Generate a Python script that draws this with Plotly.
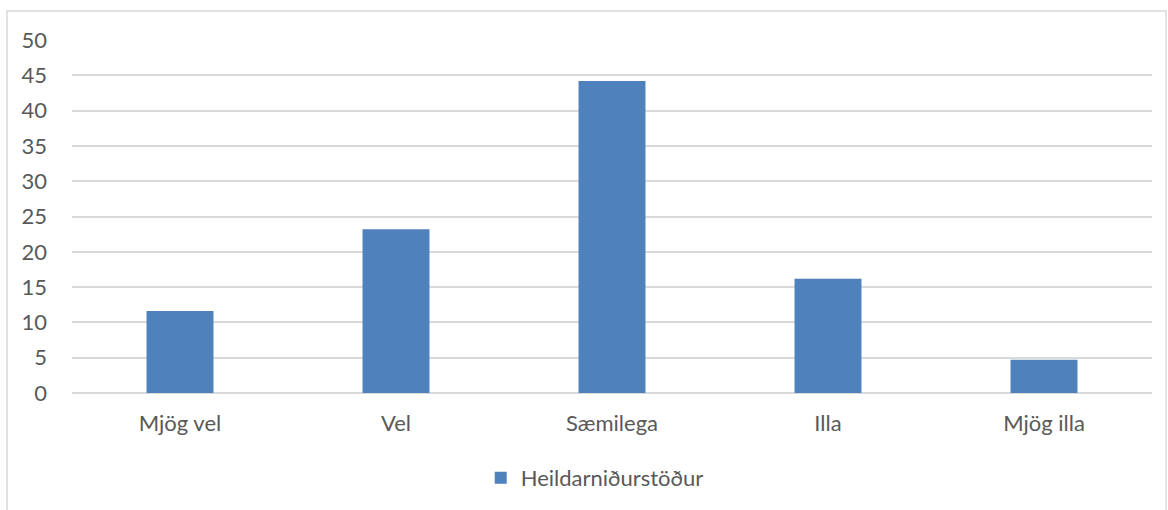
import plotly.graph_objects as go

categories = ["Mjög vel", "Vel", "Sæmilega", "Illa", "Mjög illa"]
values = [11.6, 23.2, 44.2, 16.2, 4.7]
series_name = "Heildarniðurstöður"
y_ticks = [0, 5, 10, 15, 20, 25, 30, 35, 40, 45, 50]

fig = go.Figure()
fig.add_trace(go.Bar(
    x=categories, y=values, name=series_name,
    marker=dict(color="#4F81BD", line=dict(width=0)),
))

font_family = "Lato, Open Sans, sans-serif"
fig.update_layout(
    width=1168, height=510,
    margin=dict(l=72, r=16, t=40, b=116),
    paper_bgcolor="white", plot_bgcolor="white",
    bargap=0.69,
    showlegend=True,
    legend=dict(orientation="h", x=0.484, xanchor="center", y=-0.237, yanchor="middle",
                itemwidth=30,
                font=dict(family=font_family, size=22, color="#595959")),
    font=dict(family=font_family, size=22, color="#595959"),
    xaxis=dict(showgrid=False, showline=False, ticks="", ticklabelstandoff=15,
               tickfont=dict(family=font_family, size=22, color="#595959")),
    yaxis=dict(range=[0, 50], tickvals=y_ticks, showgrid=True, gridcolor="#D9D9D9", gridwidth=1.5,
               zeroline=True, zerolinecolor="#D9D9D9", zerolinewidth=1.5,
               ticks="", ticklabelstandoff=24,
               tickfont=dict(family=font_family, size=22, color="#595959")),
    shapes=[dict(type="rect", xref="paper", yref="paper",
                 x0=-0.0602, x1=1.013, y0=-0.4, y1=1.082,
                 line=dict(color="#D9D9D9", width=1.5), fillcolor="rgba(0,0,0,0)", layer="below")],
)

fig.write_html("out.html", config={"displayModeBar": False},
               post_script="document.body.style.margin='0';")
